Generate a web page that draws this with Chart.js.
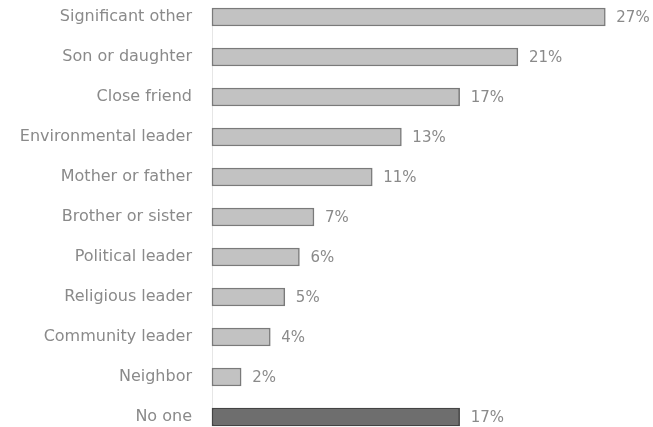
<!DOCTYPE html>
<html>
<head>
<meta charset="utf-8">
<script src="https://cdn.jsdelivr.net/npm/chart.js@4"></script>
<style>
  html, body { margin: 0; padding: 0; background: #ffffff; }
  #wrap { width: 653px; height: 427px; }
</style>
</head>
<body>
<div id="wrap"><canvas id="c" width="653" height="427"></canvas></div>
<script>
const categories = ['Significant other', 'Son or daughter', 'Close friend', 'Environmental leader', 'Mother or father', 'Brother or sister', 'Political leader', 'Religious leader', 'Community leader', 'Neighbor', 'No one'];
const values = [27, 21, 17, 13, 11, 7, 6, 5, 4, 2, 17];
const valueLabels = ['27%', '21%', '17%', '13%', '11%', '7%', '6%', '5%', '4%', '2%', '17%'];

const lightFill = '#c2c2c2';
const darkFill = '#6e6e6e';
const fills = categories.map((c, i) => i === categories.length - 1 ? darkFill : lightFill);
const borders = categories.map((c, i) => i === categories.length - 1 ? '#444444' : '#7a7a7a');

const FONT = "'DejaVu Sans', sans-serif";

const valueLabelPlugin = {
  id: 'valueLabels',
  afterDatasetsDraw(chart) {
    const ctx = chart.ctx;
    const meta = chart.getDatasetMeta(0);
    ctx.save();
    ctx.font = '15px ' + FONT;
    ctx.fillStyle = '#8a8a8a';
    ctx.textAlign = 'left';
    ctx.textBaseline = 'middle';
    meta.data.forEach((bar, i) => {
      ctx.fillText(valueLabels[i], bar.x + 11, bar.y + 1);
    });
    ctx.restore();
  }
};

new Chart(document.getElementById('c'), {
  type: 'bar',
  data: {
    labels: categories,
    datasets: [{
      data: values,
      backgroundColor: fills,
      borderColor: borders,
      borderWidth: 1.5,
      borderSkipped: false,
      barThickness: 18,
      clip: false
    }]
  },
  options: {
    indexAxis: 'y',
    responsive: false,
    devicePixelRatio: 1,
    animation: false,
    layout: { padding: { top: 17, bottom: 10, left: 0, right: 4 } },
    plugins: {
      legend: { display: false },
      tooltip: { enabled: false },
      title: { display: false }
    },
    scales: {
      x: {
        type: 'linear',
        display: false,
        min: 0,
        max: 30
      },
      y: {
        type: 'category',
        offset: false,
        grid: { display: false, drawTicks: false },
        border: { display: true, color: '#e6e6e6', width: 1, dash: [1, 5] },
        ticks: {
          padding: 20,
          color: '#8a8a8a',
          font: { family: FONT, size: 16 }
        },
        afterFit(scale) {
          scale.width = 212;
          scale.paddingTop = 0;
          scale.paddingBottom = 0;
        }
      }
    }
  },
  plugins: [valueLabelPlugin]
});
</script>
</body>
</html>
